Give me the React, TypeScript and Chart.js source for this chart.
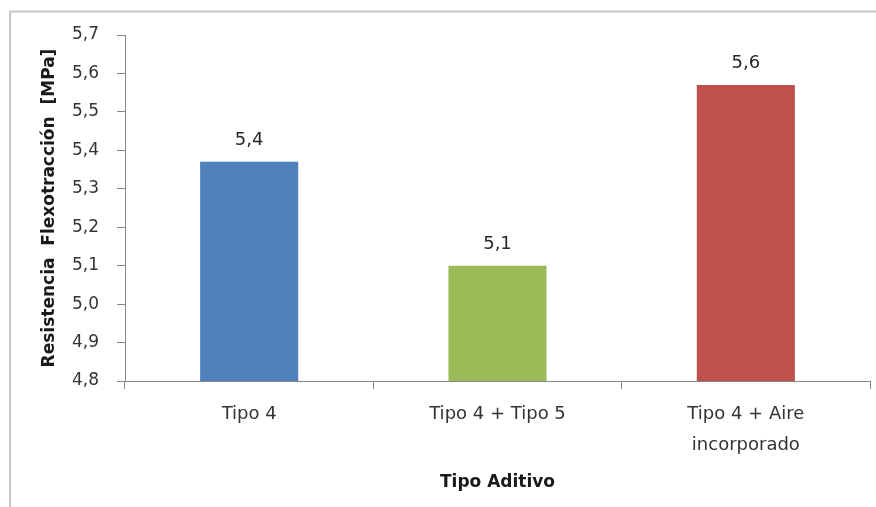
import React, { useEffect, useRef } from "react";
import { Chart, registerables } from "chart.js";

Chart.register(...registerables);

const categories: (string | string[])[] = ["Tipo 4", "Tipo 4 + Tipo 5", ["Tipo 4 + Aire", "incorporado"]];
const values: number[] = [5.37, 5.1, 5.57];
const barColors: string[] = ["#4F81BD", "#9BBB59", "#C0504D"];
const yMin = 4.8;
const yMax = 5.7;
const yStep = 0.1;
const yTitle = "Resistencia  Flexotracción  [MPa]";
const xTitle = "Tipo Aditivo";

const FONT = "'DejaVu Sans', sans-serif";
const fmt = (v: number) => v.toFixed(1).replace(".", ",");

const framePlugin = {
  id: "frame",
  beforeDraw(chart: any) {
    const ctx = chart.ctx;
    ctx.save();
    ctx.strokeStyle = "#c6c6c6";
    ctx.lineWidth = 2;
    ctx.beginPath();
    ctx.moveTo(10, chart.height);
    ctx.lineTo(10, 11.5);
    ctx.lineTo(chart.width, 11.5);
    ctx.stroke();
    ctx.restore();
  },
};

const labelPlugin = {
  id: "valueLabels",
  afterDatasetsDraw(chart: any) {
    const ctx = chart.ctx;
    const meta = chart.getDatasetMeta(0);
    const data = chart.data.datasets[0].data as number[];
    ctx.save();
    ctx.font = `18px ${FONT}`;
    ctx.fillStyle = "#262626";
    ctx.textAlign = "center";
    ctx.textBaseline = "alphabetic";
    meta.data.forEach((el: any, i: number) => {
      ctx.fillText(fmt(data[i]), el.x, el.y - 17);
    });
    ctx.restore();
  },
};

export default function App() {
  const ref = useRef<HTMLCanvasElement | null>(null);
  useEffect(() => {
    if (!ref.current) return;
    const chart = new Chart(ref.current, {
      type: "bar",
      data: {
        labels: categories as any,
        datasets: [
          {
            data: values,
            backgroundColor: barColors,
            borderWidth: 0,
            barPercentage: 0.395,
            categoryPercentage: 1,
          },
        ],
      },
      options: {
        responsive: false,
        animation: false,
        layout: { padding: { top: 35, right: 6, left: 0, bottom: 0 } },
        plugins: {
          legend: { display: false },
          tooltip: { enabled: false },
        },
        scales: {
          x: {
            afterFit: (s: any) => {
              s.height = 126;
            },
            grid: {
              drawOnChartArea: false,
              drawTicks: true,
              tickLength: 8,
              color: "#868686",
              offset: true,
            },
            border: { display: true, color: "#868686", width: 1 },
            ticks: {
              color: "#333333",
              font: { family: FONT, size: 18, lineHeight: 1.7 },
              padding: 10,
              maxRotation: 0,
              autoSkip: false,
            },
            title: {
              display: true,
              text: xTitle,
              color: "#1a1a1a",
              font: { family: FONT, size: 17, weight: "bold" },
              padding: { top: 0, bottom: 14 },
            },
          },
          y: {
            min: yMin,
            max: yMax,
            afterFit: (s: any) => {
              s.width = 125;
            },
            grid: {
              drawOnChartArea: false,
              drawTicks: true,
              tickLength: 8,
              color: "#868686",
            },
            border: { display: true, color: "#868686", width: 1 },
            ticks: {
              stepSize: yStep,
              color: "#333333",
              font: { family: FONT, size: 17 },
              padding: 18,
              callback: (v: any) => fmt(Number(v)),
            },
            title: {
              display: true,
              text: yTitle,
              color: "#1a1a1a",
              font: { family: FONT, size: 17, weight: "bold" },
              padding: { top: 39, bottom: 0 },
            },
          },
        },
      },
      plugins: [framePlugin, labelPlugin],
    });
    return () => chart.destroy();
  }, []);
  return (
    <div style={{ position: "absolute", left: 0, top: 0, width: 876, height: 507, background: "#ffffff" }}>
      <canvas ref={ref} width={876} height={507} />
    </div>
  );
}
